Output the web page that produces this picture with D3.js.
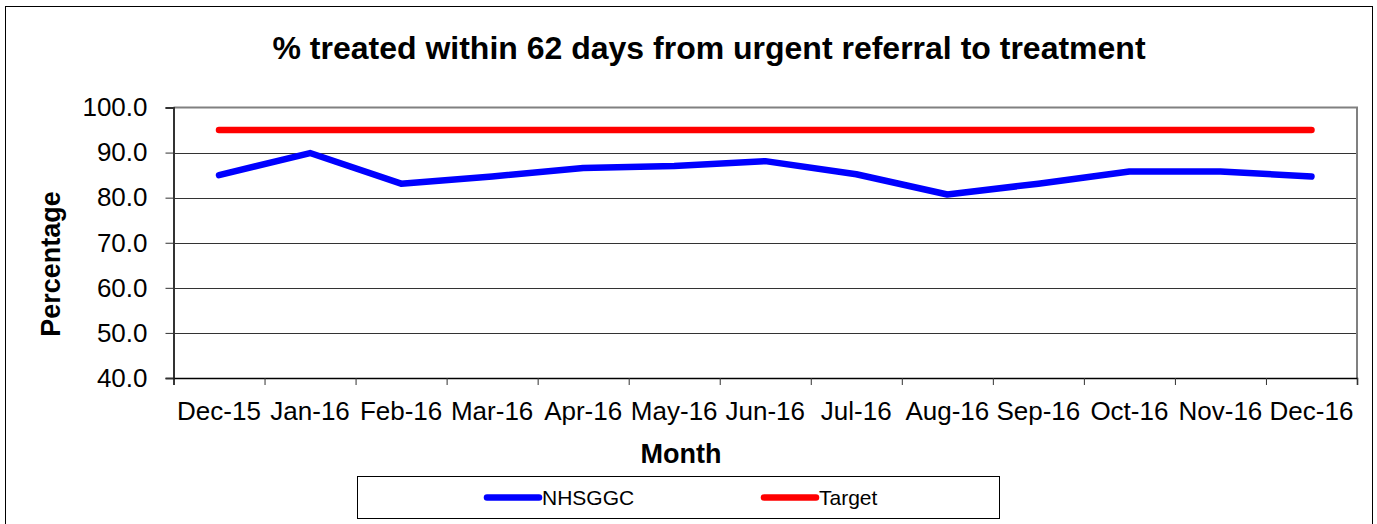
<!DOCTYPE html>
<html>
<head>
<meta charset="utf-8">
<script src="https://cdn.jsdelivr.net/npm/d3@7"></script>
<style>
  body { margin: 0; background: #fff; }
  text { font-family: "Liberation Sans", Arial, sans-serif; fill: #000; }
</style>
</head>
<body>
<div id="chart"></div>
<script>
var months = ["Dec-15", "Jan-16", "Feb-16", "Mar-16", "Apr-16", "May-16", "Jun-16",
  "Jul-16", "Aug-16", "Sep-16", "Oct-16", "Nov-16", "Dec-16"];
var nhsggc = [85.0, 89.9, 83.1, 84.7, 86.6, 87.0, 88.1, 85.2, 80.7, 83.1, 85.8, 85.8, 84.7];
var target = [95, 95, 95, 95, 95, 95, 95, 95, 95, 95, 95, 95, 95];
var yTicks = [40, 50, 60, 70, 80, 90, 100];

var width = 1377;
var height = 524;

var plotLeft = 173.5;
var plotRight = 1357;
var plotTop = 107.5;
var plotBottom = 378;

var svg = d3.select("#chart")
  .append("svg")
  .attr("width", width)
  .attr("height", height);

// outer frame
svg.append("rect")
  .attr("x", 5.5)
  .attr("y", 6.5)
  .attr("width", 1367)
  .attr("height", 530)
  .attr("fill", "#fff")
  .attr("stroke", "#000")
  .attr("stroke-width", 1);

var xScale = d3.scaleBand()
  .domain(months)
  .range([plotLeft, plotRight])
  .padding(0);

var xEdge = d3.scaleLinear()
  .domain([0, months.length])
  .range([plotLeft, plotRight]);

var yScale = d3.scaleLinear()
  .domain([40, 100])
  .range([plotBottom, plotTop]);

// gridlines
svg.append("g")
  .selectAll("line")
  .data(yTicks.filter(function(d) { return d > 40 && d < 100; }))
  .enter()
  .append("line")
  .attr("x1", plotLeft)
  .attr("x2", plotRight)
  .attr("y1", function(d) { return Math.round(yScale(d)) + 0.5; })
  .attr("y2", function(d) { return Math.round(yScale(d)) + 0.5; })
  .attr("stroke", "#333")
  .attr("stroke-width", 1);

// plot border top / right
svg.append("path")
  .attr("d", "M" + plotLeft + "," + plotTop + "H" + plotRight + "V" + plotBottom)
  .attr("fill", "none")
  .attr("stroke", "#808080")
  .attr("stroke-width", 2);

// y axis
var yAxis = d3.axisLeft(yScale)
  .tickValues(yTicks)
  .tickSize(8)
  .tickPadding(18)
  .tickFormat(d3.format(".1f"));

var yG = svg.append("g")
  .attr("transform", "translate(" + plotLeft + ",0)")
  .call(yAxis);
yG.select(".domain").attr("stroke", "#333").attr("stroke-width", 2);
yG.selectAll(".tick line").attr("stroke", "#333");
yG.selectAll("text")
  .attr("font-size", 26)
  .attr("font-family", "Liberation Sans, Arial, sans-serif")
  .attr("fill", "#000");

// x axis: ticks on category edges
var xAxis = d3.axisBottom(xEdge)
  .tickValues(d3.range(months.length + 1))
  .tickSize(7)
  .tickFormat("");

var xG = svg.append("g")
  .attr("transform", "translate(0," + plotBottom + ")")
  .call(xAxis);
xG.select(".domain").attr("stroke", "#000").attr("stroke-width", 1.5);
xG.selectAll(".tick line").attr("stroke", "#333");

// x labels at category centres
svg.append("g")
  .selectAll("text")
  .data(months)
  .enter()
  .append("text")
  .attr("x", function(d) { return xScale(d) + xScale.bandwidth() / 2; })
  .attr("y", 420)
  .attr("text-anchor", "middle")
  .attr("font-size", 26)
  .text(function(d) { return d; });

// lines
var line = d3.line()
  .x(function(d, i) { return xScale(months[i]) + xScale.bandwidth() / 2; })
  .y(function(d) { return yScale(d); });

svg.append("path")
  .datum(target)
  .attr("d", line)
  .attr("fill", "none")
  .attr("stroke", "#ff0000")
  .attr("stroke-width", 6.5)
  .attr("stroke-linecap", "round")
  .attr("stroke-linejoin", "round");

svg.append("path")
  .datum(nhsggc)
  .attr("d", line)
  .attr("fill", "none")
  .attr("stroke", "#0000ff")
  .attr("stroke-width", 6.5)
  .attr("stroke-linecap", "round")
  .attr("stroke-linejoin", "round");

// title
svg.append("text")
  .attr("x", 709)
  .attr("y", 59)
  .attr("text-anchor", "middle")
  .attr("font-size", 32)
  .attr("font-weight", "bold")
  .text("% treated within 62 days from urgent referral to treatment");

// axis titles
svg.append("text")
  .attr("x", 681)
  .attr("y", 463)
  .attr("text-anchor", "middle")
  .attr("font-size", 27)
  .attr("font-weight", "bold")
  .text("Month");

svg.append("text")
  .attr("transform", "translate(60,264)rotate(-90)")
  .attr("text-anchor", "middle")
  .attr("font-size", 27)
  .attr("font-weight", "bold")
  .text("Percentage");

// legend
var legend = svg.append("g");
legend.append("rect")
  .attr("x", 357.5)
  .attr("y", 476.5)
  .attr("width", 642)
  .attr("height", 42)
  .attr("fill", "#fff")
  .attr("stroke", "#000")
  .attr("stroke-width", 1);

var legendItems = [
  { name: "NHSGGC", color: "#0000ff", x: 487 },
  { name: "Target", color: "#ff0000", x: 764 }
];

legendItems.forEach(function(item) {
  legend.append("line")
    .attr("x1", item.x)
    .attr("x2", item.x + 52)
    .attr("y1", 497.5)
    .attr("y2", 497.5)
    .attr("stroke", item.color)
    .attr("stroke-width", 6.5)
    .attr("stroke-linecap", "round");
  legend.append("text")
    .attr("x", item.x + 55)
    .attr("y", 505)
    .attr("font-size", 21)
    .text(item.name);
});
</script>
</body>
</html>
